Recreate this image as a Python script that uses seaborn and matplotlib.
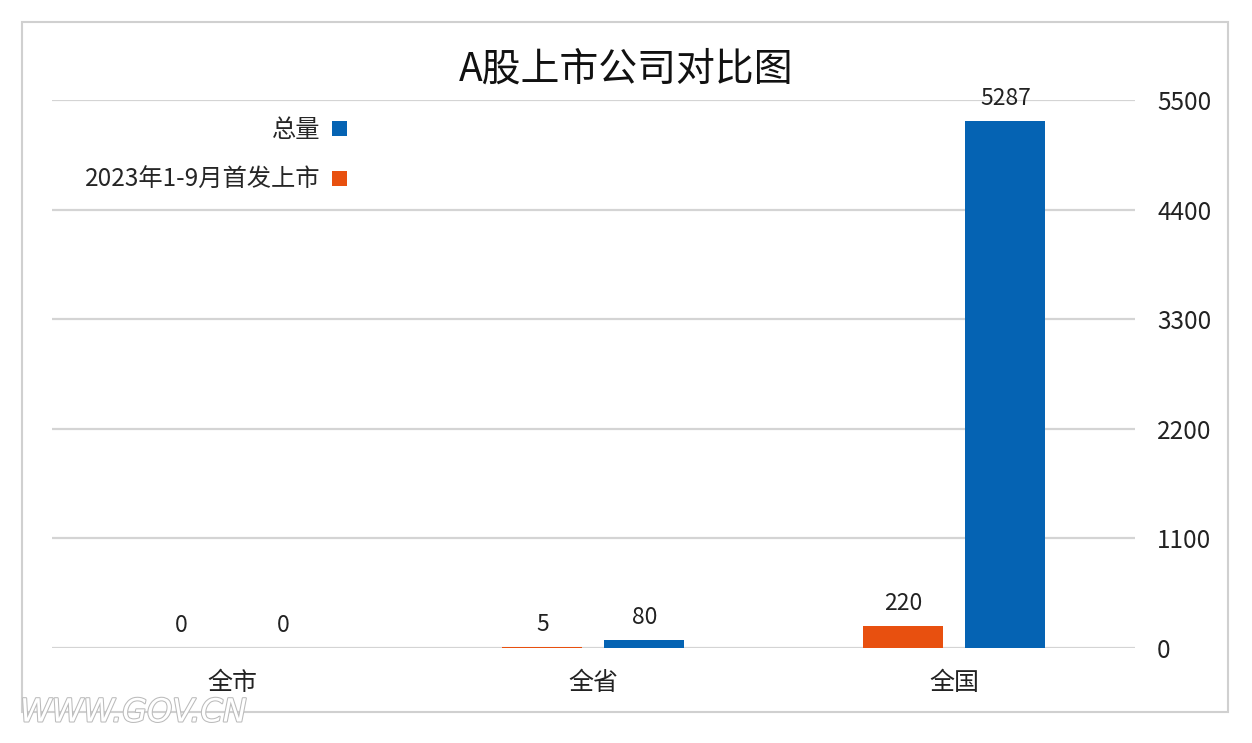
import matplotlib.pyplot as plt
import matplotlib.patheffects as pe
import seaborn as sns
import pandas as pd
from matplotlib.patches import Rectangle

categories = ['全国', '全省', '全市']
series_names = ['总量', '2023年1-9月首发上市']
total = [5287, 80, 0]
ipo_2023 = [220, 5, 0]
y_ticks = [0, 1100, 2200, 3300, 4400, 5500]

df = pd.DataFrame({
    'region': categories * 2,
    'series': [series_names[0]] * 3 + [series_names[1]] * 3,
    'count': total + ipo_2023,
})

sns.set_theme(style='white')
plt.rcParams['font.family'] = ['Noto Sans CJK SC', 'DejaVu Sans']

fig = plt.figure(figsize=(12.52, 7.43), dpi=100)
ax = fig.add_axes([0.0415, 0.1279, 0.865, 0.7375])

# outer frame of the chart area
fig.patches.append(Rectangle((22 / 1252, 1 - 712 / 743), 1206 / 1252, 690 / 743,
                             transform=fig.transFigure, fill=False,
                             edgecolor='#d0d0d0', linewidth=1.5))

sns.barplot(data=df, x='region', y='count', hue='series', order=categories,
            hue_order=series_names, palette=['#0563b3', '#e8500f'],
            width=0.565, gap=0.216, saturation=1, linewidth=0, ax=ax, legend=True)

for cont in ax.containers:
    ax.bar_label(cont, fmt='%d', padding=8, fontsize=16.5, color='#222222')

ax.set_ylim(0, 5500)
ax.set_yticks(y_ticks)
ax.yaxis.tick_right()
ax.invert_xaxis()
ax.grid(axis='y', color='#d4d4d4', linewidth=1.6)
ax.set_axisbelow(True)
for s in ax.spines.values():
    s.set_visible(False)
ax.tick_params(axis='y', labelsize=17.5, colors='#222222', length=0, pad=16)
ax.tick_params(axis='x', labelsize=18, colors='#222222', length=0, pad=16)
ax.set_xlabel('')
ax.set_ylabel('')

fig.text(0.5, 1 - 70 / 743, 'A股上市公司对比图', fontsize=28, color='#111111',
         ha='center', va='center')

ax.legend(loc='upper right', bbox_to_anchor=(312 / 1083, 1.0), frameon=False,
          markerfirst=False, fontsize=17.5, handlelength=0.6, handleheight=0.6,
          labelspacing=1.0, handletextpad=0.5, borderaxespad=0.3)

fig.text(20 / 1252, 1 - 713 / 743, 'WWW.GOV.CN', fontsize=23, color='white',
         family='DejaVu Sans', style='italic', va='center', ha='left',
         path_effects=[pe.withStroke(linewidth=1.5, foreground='#bbbbbb')])

fig.savefig('out.png', dpi=100)
